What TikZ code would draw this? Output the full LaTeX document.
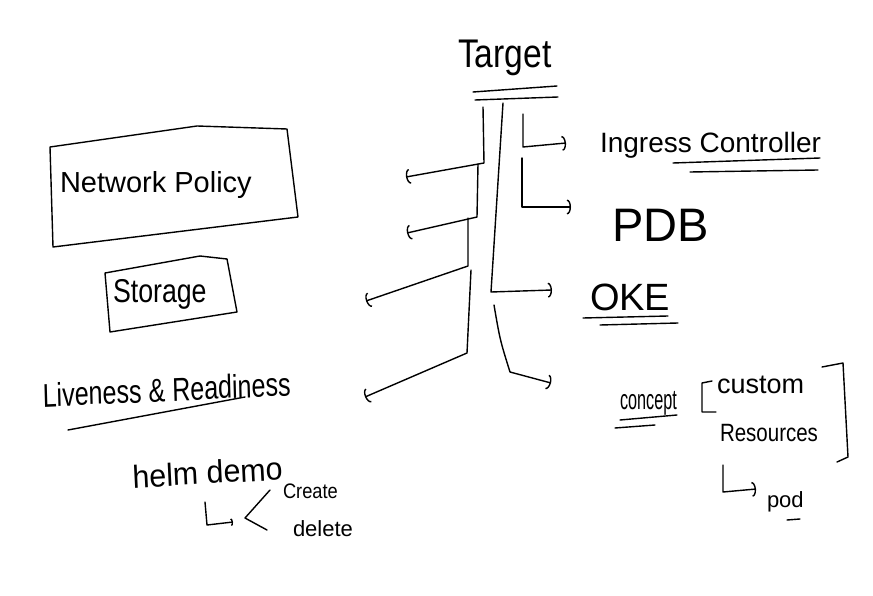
\documentclass[tikz,border=0pt]{standalone}
\usepackage{fontspec}
\setmainfont{Liberation Sans}
\usetikzlibrary{arrows.meta}
\begin{document}
\begin{tikzpicture}[x=1pt,y=-1pt,line width=1.4pt,line cap=round,line join=round,
  arr/.style={-{Arc Barb[length=4pt,width=15pt]}},
  lbl/.style={anchor=base west,inner sep=0pt,outer sep=0pt},
  fs/.style={font=\fontsize{#1}{#1}\selectfont}]
\useasboundingbox (0,0) rectangle (873,596);
% labels
\node[lbl,fs=40,xscale=0.84] (target) at (458,68) {Target};
\node[lbl,fs=28] (ingress) at (600,153) {Ingress Controller};
\node[lbl,fs=47] (pdb) at (612,242) {PDB};
\node[lbl,fs=38] (oke) at (590,310) {OKE};
\node[lbl,fs=28,xscale=0.58] (concept) at (620,409) {concept};
\node[lbl,fs=27] (custom) at (717,393) {custom};
\node[lbl,fs=25,xscale=0.82] (resources) at (720,441) {Resources};
\node[lbl,fs=22] (pod) at (767,507) {pod};
\node[lbl,fs=29] (netpol) at (60,193) {Network Policy};
\node[lbl,fs=33,xscale=0.81] (storage) at (113,302) {Storage};
\node[lbl,fs=33,xscale=0.76,rotate=2] (live) at (43,407) {Liveness \& Readiness};
\node[lbl,fs=32,xscale=0.95,rotate=3] (helm) at (133,488) {helm demo};
\node[lbl,fs=21,xscale=0.87] (create) at (283,498) {Create};
\node[lbl,fs=22] (delete) at (293,536) {delete};
% boxes
\draw (50,147) -- (197,126) -- (287,129) -- (298,217) -- (53,247) -- cycle;
\draw (105,273) -- (200,256) -- (227,259) -- (237,312) -- (110,332) -- cycle;
% underlines
\draw (473,92) -- (557,86);
\draw (475,100) -- (558,97);
\draw (673,163) -- (820,158);
\draw (690,172) -- (818,170);
\draw (583,318) -- (668,316);
\draw (600,325) -- (678,323);
\draw (620,420) -- (677,415);
\draw (615,428) -- (655,425);
\draw (787,520) -- (800,519);
\draw (68,430) -- (245,397);
% trunk coordinates
\coordinate (t1a) at (483,107); \coordinate (t1b) at (484,163); \coordinate (t1e) at (406,177);
\coordinate (t2a) at (478,164); \coordinate (t2b) at (477,217); \coordinate (t2e) at (407,233);
\coordinate (t3a) at (468,218); \coordinate (t3b) at (468,266); \coordinate (t3e) at (366,301);
\coordinate (t4a) at (471,270); \coordinate (t4b) at (467,353); \coordinate (t4e) at (365,397);
\coordinate (m1a) at (503,103); \coordinate (m1b) at (491,292); \coordinate (m1e) at (552,290);
\coordinate (m2a) at (494,305); \coordinate (m2b) at (510,372); \coordinate (m2e) at (551,383);
\coordinate (r1a) at (523,114); \coordinate (r1b) at (523,147); \coordinate (r1e) at (566,143);
\coordinate (r2a) at (522,158); \coordinate (r2b) at (522,207); \coordinate (r2e) at (571,207);
\draw[arr] (t1a) -- (t1b) -- (t1e);
\draw[arr] (t2a) -- (t2b) -- (t2e);
\draw[arr] (t3a) -- (t3b) -- (t3e);
\draw[arr] (t4a) -- (t4b) -- (t4e);
\draw[arr] (m1a) -- (m1b) -- (m1e);
\draw[arr] (m2a) .. controls (500,340) .. (m2b) -- (m2e);
\draw[arr] (r1a) -- (r1b) -- (r1e);
\draw[arr] (r2a) -- (r2b) -- (r2e);
% brackets around custom resources
\draw (712,381) -- (702,383) -- (702,412) -- (716,412);
\draw (822,367) -- (843,363) -- (848,457) -- (837,462);
% pod elbow
\coordinate (pa) at (723,465); \coordinate (pb) at (723,492); \coordinate (pe) at (756,489);
\draw[arr] (pa) -- (pb) -- (pe);
% helm elbow and fork
\coordinate (ha) at (205,502); \coordinate (hb) at (207,525); \coordinate (he) at (233,522);
\draw[-{Arc Barb[length=2pt,width=8pt]}] (ha) -- (hb) -- (he);
\coordinate (fk) at (245,518);
\draw (270,490) -- (fk) -- (267,530);
\end{tikzpicture}
\end{document}
